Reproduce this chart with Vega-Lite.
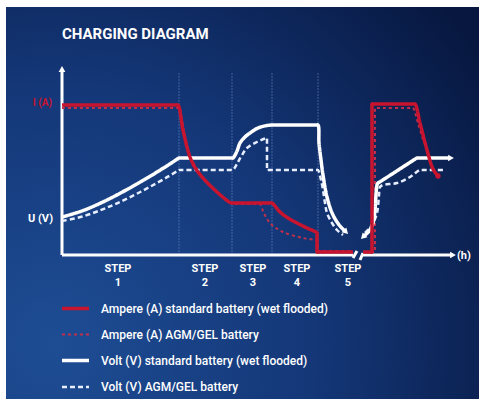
{
  "$schema": "https://vega.github.io/schema/vega-lite/v6.json",
  "width": 479,
  "height": 402,
  "autosize": {"type": "fit", "contains": "padding"},
  "padding": 0,
  "background": "#ffffff",
  "config": {
    "view": {"stroke": null},
    "legend": {
      "orient": "none",
      "legendX": 60,
      "legendY": 293,
      "title": null,
      "symbolType": "stroke",
      "symbolSize": 729,
      "rowPadding": 4,
      "labelOffset": 10,
      "labelColor": "#ffffff",
      "labelFont": "Roboto",
      "labelFontSize": 12,
      "labelFontWeight": 500,
      "labelLimit": 400,
      "padding": 0
    }
  },
  "datasets": {
    "bg": [{"x1": -56, "x2": 417, "y1": -144, "y2": 248}],
    "steps": [
      {"x": 117, "y1": 0, "y2": 183},
      {"x": 170, "y1": 0, "y2": 183},
      {"x": 210, "y1": 0, "y2": 183},
      {"x": 256, "y1": 0, "y2": 183}
    ],
    "axes": [
      {"x1": 0, "y1": 0, "x2": 0, "y2": 185},
      {"x1": 0, "y1": 0, "x2": 291, "y2": 0},
      {"x1": 301, "y1": 0, "x2": 390, "y2": 0},
      {"x1": 291, "y1": -3, "x2": 295, "y2": 4},
      {"x1": 298, "y1": -5, "x2": 301, "y2": 2}
    ],
    "arrows": [
      {"x": 0, "y": 186, "heading": 0},
      {"x": 391, "y": 0, "heading": 90},
      {"x": 389, "y": 97, "heading": 90},
      {"x": 284, "y": 23, "heading": 135},
      {"x": 301, "y": 18, "heading": 225}
    ],
    "curves": [
      {"series": "Ampere (A) AGM/GEL battery", "seg": "rd-a", "i": 1, "x": 0, "y": 147},
      {"series": "Ampere (A) AGM/GEL battery", "seg": "rd-a", "i": 2, "x": 2, "y": 147},
      {"series": "Ampere (A) AGM/GEL battery", "seg": "rd-a", "i": 3, "x": 115, "y": 147},
      {"series": "Ampere (A) AGM/GEL battery", "seg": "rd-a", "i": 4, "x": 117, "y": 147},
      {"series": "Ampere (A) AGM/GEL battery", "seg": "rd-a", "i": 5, "x": 122, "y": 124},
      {"series": "Ampere (A) AGM/GEL battery", "seg": "rd-a", "i": 6, "x": 129, "y": 97},
      {"series": "Ampere (A) AGM/GEL battery", "seg": "rd-a", "i": 7, "x": 142, "y": 76},
      {"series": "Ampere (A) AGM/GEL battery", "seg": "rd-a", "i": 8, "x": 156, "y": 62},
      {"series": "Ampere (A) AGM/GEL battery", "seg": "rd-a", "i": 9, "x": 170, "y": 51},
      {"series": "Ampere (A) AGM/GEL battery", "seg": "rd-a", "i": 10, "x": 172, "y": 51},
      {"series": "Ampere (A) AGM/GEL battery", "seg": "rd-a", "i": 11, "x": 196, "y": 51},
      {"series": "Ampere (A) AGM/GEL battery", "seg": "rd-a", "i": 12, "x": 198, "y": 51},
      {"series": "Ampere (A) AGM/GEL battery", "seg": "rd-a", "i": 13, "x": 201, "y": 44},
      {"series": "Ampere (A) AGM/GEL battery", "seg": "rd-a", "i": 14, "x": 205, "y": 36},
      {"series": "Ampere (A) AGM/GEL battery", "seg": "rd-a", "i": 15, "x": 210, "y": 30},
      {"series": "Ampere (A) AGM/GEL battery", "seg": "rd-a", "i": 16, "x": 221, "y": 23},
      {"series": "Ampere (A) AGM/GEL battery", "seg": "rd-a", "i": 17, "x": 241, "y": 17},
      {"series": "Ampere (A) AGM/GEL battery", "seg": "rd-a", "i": 18, "x": 256, "y": 14},
      {"series": "Ampere (A) AGM/GEL battery", "seg": "rd-a", "i": 19, "x": 256, "y": 12},
      {"series": "Ampere (A) AGM/GEL battery", "seg": "rd-a", "i": 20, "x": 256, "y": 6},
      {"series": "Ampere (A) AGM/GEL battery", "seg": "rd-a", "i": 21, "x": 256, "y": 4},
      {"series": "Ampere (A) AGM/GEL battery", "seg": "rd-a", "i": 22, "x": 258, "y": 4},
      {"series": "Ampere (A) AGM/GEL battery", "seg": "rd-a", "i": 23, "x": 289, "y": 4},
      {"series": "Ampere (A) AGM/GEL battery", "seg": "rd-a", "i": 24, "x": 291, "y": 4},
      {"series": "Ampere (A) AGM/GEL battery", "seg": "rd-b", "i": 1, "x": 303, "y": 3},
      {"series": "Ampere (A) AGM/GEL battery", "seg": "rd-b", "i": 2, "x": 305, "y": 3},
      {"series": "Ampere (A) AGM/GEL battery", "seg": "rd-b", "i": 3, "x": 311, "y": 3},
      {"series": "Ampere (A) AGM/GEL battery", "seg": "rd-b", "i": 4, "x": 313, "y": 3},
      {"series": "Ampere (A) AGM/GEL battery", "seg": "rd-b", "i": 5, "x": 313, "y": 5},
      {"series": "Ampere (A) AGM/GEL battery", "seg": "rd-b", "i": 6, "x": 313, "y": 145},
      {"series": "Ampere (A) AGM/GEL battery", "seg": "rd-b", "i": 7, "x": 313, "y": 147},
      {"series": "Ampere (A) AGM/GEL battery", "seg": "rd-b", "i": 8, "x": 315, "y": 147},
      {"series": "Ampere (A) AGM/GEL battery", "seg": "rd-b", "i": 9, "x": 349, "y": 147},
      {"series": "Ampere (A) AGM/GEL battery", "seg": "rd-b", "i": 10, "x": 351, "y": 147},
      {"series": "Ampere (A) AGM/GEL battery", "seg": "rd-b", "i": 11, "x": 356, "y": 132},
      {"series": "Ampere (A) AGM/GEL battery", "seg": "rd-b", "i": 12, "x": 362, "y": 112},

      {"series": "Volt (V) AGM/GEL battery", "seg": "wd-a", "i": 1, "x": 0, "y": 34},
      {"series": "Volt (V) AGM/GEL battery", "seg": "wd-a", "i": 2, "x": 21, "y": 38.6},
      {"series": "Volt (V) AGM/GEL battery", "seg": "wd-a", "i": 3, "x": 40, "y": 45.4},
      {"series": "Volt (V) AGM/GEL battery", "seg": "wd-a", "i": 4, "x": 55, "y": 51.7},
      {"series": "Volt (V) AGM/GEL battery", "seg": "wd-a", "i": 5, "x": 72, "y": 59.8},
      {"series": "Volt (V) AGM/GEL battery", "seg": "wd-a", "i": 6, "x": 88, "y": 68.2},
      {"series": "Volt (V) AGM/GEL battery", "seg": "wd-a", "i": 7, "x": 105, "y": 77.8},
      {"series": "Volt (V) AGM/GEL battery", "seg": "wd-a", "i": 8, "x": 115, "y": 83.8},
      {"series": "Volt (V) AGM/GEL battery", "seg": "wd-a", "i": 9, "x": 117, "y": 85},
      {"series": "Volt (V) AGM/GEL battery", "seg": "wd-a", "i": 10, "x": 119, "y": 85},
      {"series": "Volt (V) AGM/GEL battery", "seg": "wd-a", "i": 11, "x": 169, "y": 85},
      {"series": "Volt (V) AGM/GEL battery", "seg": "wd-a", "i": 12, "x": 171, "y": 85},
      {"series": "Volt (V) AGM/GEL battery", "seg": "wd-a", "i": 13, "x": 176, "y": 93},
      {"series": "Volt (V) AGM/GEL battery", "seg": "wd-a", "i": 14, "x": 180, "y": 100},
      {"series": "Volt (V) AGM/GEL battery", "seg": "wd-a", "i": 15, "x": 185, "y": 107},
      {"series": "Volt (V) AGM/GEL battery", "seg": "wd-a", "i": 16, "x": 195, "y": 113},
      {"series": "Volt (V) AGM/GEL battery", "seg": "wd-a", "i": 17, "x": 203, "y": 116.5},
      {"series": "Volt (V) AGM/GEL battery", "seg": "wd-a", "i": 18, "x": 205, "y": 117},
      {"series": "Volt (V) AGM/GEL battery", "seg": "wd-a", "i": 19, "x": 205, "y": 115},
      {"series": "Volt (V) AGM/GEL battery", "seg": "wd-a", "i": 20, "x": 205, "y": 87},
      {"series": "Volt (V) AGM/GEL battery", "seg": "wd-a", "i": 21, "x": 205, "y": 85},
      {"series": "Volt (V) AGM/GEL battery", "seg": "wd-a", "i": 22, "x": 207, "y": 85},
      {"series": "Volt (V) AGM/GEL battery", "seg": "wd-a", "i": 23, "x": 254, "y": 85},
      {"series": "Volt (V) AGM/GEL battery", "seg": "wd-a", "i": 24, "x": 256, "y": 85},
      {"series": "Volt (V) AGM/GEL battery", "seg": "wd-a", "i": 25, "x": 259, "y": 75},
      {"series": "Volt (V) AGM/GEL battery", "seg": "wd-a", "i": 26, "x": 261, "y": 65},
      {"series": "Volt (V) AGM/GEL battery", "seg": "wd-a", "i": 27, "x": 263, "y": 52},
      {"series": "Volt (V) AGM/GEL battery", "seg": "wd-a", "i": 28, "x": 265, "y": 42},
      {"series": "Volt (V) AGM/GEL battery", "seg": "wd-a", "i": 29, "x": 270, "y": 32},
      {"series": "Volt (V) AGM/GEL battery", "seg": "wd-a", "i": 30, "x": 275, "y": 25},
      {"series": "Volt (V) AGM/GEL battery", "seg": "wd-a", "i": 31, "x": 281, "y": 20},
      {"series": "Volt (V) AGM/GEL battery", "seg": "wd-b", "i": 1, "x": 303, "y": 22},
      {"series": "Volt (V) AGM/GEL battery", "seg": "wd-b", "i": 2, "x": 310, "y": 30},
      {"series": "Volt (V) AGM/GEL battery", "seg": "wd-b", "i": 3, "x": 315, "y": 42},
      {"series": "Volt (V) AGM/GEL battery", "seg": "wd-b", "i": 4, "x": 317, "y": 60},
      {"series": "Volt (V) AGM/GEL battery", "seg": "wd-b", "i": 5, "x": 318, "y": 68},
      {"series": "Volt (V) AGM/GEL battery", "seg": "wd-b", "i": 6, "x": 321, "y": 70},
      {"series": "Volt (V) AGM/GEL battery", "seg": "wd-b", "i": 7, "x": 335, "y": 72},
      {"series": "Volt (V) AGM/GEL battery", "seg": "wd-b", "i": 8, "x": 348, "y": 78},
      {"series": "Volt (V) AGM/GEL battery", "seg": "wd-b", "i": 9, "x": 356, "y": 84},
      {"series": "Volt (V) AGM/GEL battery", "seg": "wd-b", "i": 10, "x": 358, "y": 85},
      {"series": "Volt (V) AGM/GEL battery", "seg": "wd-b", "i": 11, "x": 360, "y": 85},
      {"series": "Volt (V) AGM/GEL battery", "seg": "wd-b", "i": 12, "x": 379, "y": 85},
      {"series": "Volt (V) AGM/GEL battery", "seg": "wd-b", "i": 13, "x": 381, "y": 85},

      {"series": "Volt (V) standard battery (wet flooded)", "seg": "ws-a", "i": 1, "x": 0, "y": 38},
      {"series": "Volt (V) standard battery (wet flooded)", "seg": "ws-a", "i": 2, "x": 21, "y": 44.4},
      {"series": "Volt (V) standard battery (wet flooded)", "seg": "ws-a", "i": 3, "x": 40, "y": 52.6},
      {"series": "Volt (V) standard battery (wet flooded)", "seg": "ws-a", "i": 4, "x": 55, "y": 60.1},
      {"series": "Volt (V) standard battery (wet flooded)", "seg": "ws-a", "i": 5, "x": 72, "y": 69.4},
      {"series": "Volt (V) standard battery (wet flooded)", "seg": "ws-a", "i": 6, "x": 88, "y": 78.7},
      {"series": "Volt (V) standard battery (wet flooded)", "seg": "ws-a", "i": 7, "x": 105, "y": 89.2},
      {"series": "Volt (V) standard battery (wet flooded)", "seg": "ws-a", "i": 8, "x": 115, "y": 95.7},
      {"series": "Volt (V) standard battery (wet flooded)", "seg": "ws-a", "i": 9, "x": 117, "y": 97},
      {"series": "Volt (V) standard battery (wet flooded)", "seg": "ws-a", "i": 10, "x": 119, "y": 97},
      {"series": "Volt (V) standard battery (wet flooded)", "seg": "ws-a", "i": 11, "x": 169, "y": 97},
      {"series": "Volt (V) standard battery (wet flooded)", "seg": "ws-a", "i": 12, "x": 171, "y": 97},
      {"series": "Volt (V) standard battery (wet flooded)", "seg": "ws-a", "i": 13, "x": 175, "y": 104},
      {"series": "Volt (V) standard battery (wet flooded)", "seg": "ws-a", "i": 14, "x": 178, "y": 112},
      {"series": "Volt (V) standard battery (wet flooded)", "seg": "ws-a", "i": 15, "x": 183, "y": 118},
      {"series": "Volt (V) standard battery (wet flooded)", "seg": "ws-a", "i": 16, "x": 188, "y": 122},
      {"series": "Volt (V) standard battery (wet flooded)", "seg": "ws-a", "i": 17, "x": 196, "y": 127},
      {"series": "Volt (V) standard battery (wet flooded)", "seg": "ws-a", "i": 18, "x": 205, "y": 129.5},
      {"series": "Volt (V) standard battery (wet flooded)", "seg": "ws-a", "i": 19, "x": 211, "y": 130},
      {"series": "Volt (V) standard battery (wet flooded)", "seg": "ws-a", "i": 20, "x": 213, "y": 130},
      {"series": "Volt (V) standard battery (wet flooded)", "seg": "ws-a", "i": 21, "x": 254, "y": 130},
      {"series": "Volt (V) standard battery (wet flooded)", "seg": "ws-a", "i": 22, "x": 256, "y": 130},
      {"series": "Volt (V) standard battery (wet flooded)", "seg": "ws-a", "i": 23, "x": 257, "y": 112},
      {"series": "Volt (V) standard battery (wet flooded)", "seg": "ws-a", "i": 24, "x": 259, "y": 95},
      {"series": "Volt (V) standard battery (wet flooded)", "seg": "ws-a", "i": 25, "x": 261, "y": 80},
      {"series": "Volt (V) standard battery (wet flooded)", "seg": "ws-a", "i": 26, "x": 265, "y": 58},
      {"series": "Volt (V) standard battery (wet flooded)", "seg": "ws-a", "i": 27, "x": 271, "y": 40},
      {"series": "Volt (V) standard battery (wet flooded)", "seg": "ws-a", "i": 28, "x": 278, "y": 29},
      {"series": "Volt (V) standard battery (wet flooded)", "seg": "ws-a", "i": 29, "x": 284, "y": 23},
      {"series": "Volt (V) standard battery (wet flooded)", "seg": "ws-b", "i": 1, "x": 301, "y": 18},
      {"series": "Volt (V) standard battery (wet flooded)", "seg": "ws-b", "i": 2, "x": 307, "y": 24},
      {"series": "Volt (V) standard battery (wet flooded)", "seg": "ws-b", "i": 3, "x": 311, "y": 32},
      {"series": "Volt (V) standard battery (wet flooded)", "seg": "ws-b", "i": 4, "x": 313, "y": 45},
      {"series": "Volt (V) standard battery (wet flooded)", "seg": "ws-b", "i": 5, "x": 314, "y": 60},
      {"series": "Volt (V) standard battery (wet flooded)", "seg": "ws-b", "i": 6, "x": 315, "y": 70},
      {"series": "Volt (V) standard battery (wet flooded)", "seg": "ws-b", "i": 7, "x": 316, "y": 72},
      {"series": "Volt (V) standard battery (wet flooded)", "seg": "ws-b", "i": 8, "x": 318, "y": 73.2},
      {"series": "Volt (V) standard battery (wet flooded)", "seg": "ws-b", "i": 9, "x": 353, "y": 95.8},
      {"series": "Volt (V) standard battery (wet flooded)", "seg": "ws-b", "i": 10, "x": 355, "y": 97},
      {"series": "Volt (V) standard battery (wet flooded)", "seg": "ws-b", "i": 11, "x": 357, "y": 97},
      {"series": "Volt (V) standard battery (wet flooded)", "seg": "ws-b", "i": 12, "x": 386, "y": 97},
      {"series": "Volt (V) standard battery (wet flooded)", "seg": "ws-b", "i": 13, "x": 388, "y": 97},

      {"series": "Ampere (A) standard battery (wet flooded)", "seg": "rs-a", "i": 1, "x": 0, "y": 150},
      {"series": "Ampere (A) standard battery (wet flooded)", "seg": "rs-a", "i": 2, "x": 2, "y": 150},
      {"series": "Ampere (A) standard battery (wet flooded)", "seg": "rs-a", "i": 3, "x": 114, "y": 150},
      {"series": "Ampere (A) standard battery (wet flooded)", "seg": "rs-a", "i": 4, "x": 116, "y": 150},
      {"series": "Ampere (A) standard battery (wet flooded)", "seg": "rs-a", "i": 5, "x": 121, "y": 125},
      {"series": "Ampere (A) standard battery (wet flooded)", "seg": "rs-a", "i": 6, "x": 128, "y": 98},
      {"series": "Ampere (A) standard battery (wet flooded)", "seg": "rs-a", "i": 7, "x": 134, "y": 86},
      {"series": "Ampere (A) standard battery (wet flooded)", "seg": "rs-a", "i": 8, "x": 141, "y": 77},
      {"series": "Ampere (A) standard battery (wet flooded)", "seg": "rs-a", "i": 9, "x": 155, "y": 63},
      {"series": "Ampere (A) standard battery (wet flooded)", "seg": "rs-a", "i": 10, "x": 168, "y": 52.5},
      {"series": "Ampere (A) standard battery (wet flooded)", "seg": "rs-a", "i": 11, "x": 170, "y": 52},
      {"series": "Ampere (A) standard battery (wet flooded)", "seg": "rs-a", "i": 12, "x": 172, "y": 52},
      {"series": "Ampere (A) standard battery (wet flooded)", "seg": "rs-a", "i": 13, "x": 208, "y": 52},
      {"series": "Ampere (A) standard battery (wet flooded)", "seg": "rs-a", "i": 14, "x": 210, "y": 52},
      {"series": "Ampere (A) standard battery (wet flooded)", "seg": "rs-a", "i": 15, "x": 218, "y": 43},
      {"series": "Ampere (A) standard battery (wet flooded)", "seg": "rs-a", "i": 16, "x": 226, "y": 37},
      {"series": "Ampere (A) standard battery (wet flooded)", "seg": "rs-a", "i": 17, "x": 235, "y": 32},
      {"series": "Ampere (A) standard battery (wet flooded)", "seg": "rs-a", "i": 18, "x": 245, "y": 27},
      {"series": "Ampere (A) standard battery (wet flooded)", "seg": "rs-a", "i": 19, "x": 255, "y": 22},
      {"series": "Ampere (A) standard battery (wet flooded)", "seg": "rs-a", "i": 20, "x": 255, "y": 20},
      {"series": "Ampere (A) standard battery (wet flooded)", "seg": "rs-a", "i": 21, "x": 255, "y": 5},
      {"series": "Ampere (A) standard battery (wet flooded)", "seg": "rs-a", "i": 22, "x": 255, "y": 3},
      {"series": "Ampere (A) standard battery (wet flooded)", "seg": "rs-a", "i": 23, "x": 257, "y": 3},
      {"series": "Ampere (A) standard battery (wet flooded)", "seg": "rs-a", "i": 24, "x": 289, "y": 3},
      {"series": "Ampere (A) standard battery (wet flooded)", "seg": "rs-a", "i": 25, "x": 291, "y": 3},
      {"series": "Ampere (A) standard battery (wet flooded)", "seg": "rs-b", "i": 1, "x": 301, "y": 3},
      {"series": "Ampere (A) standard battery (wet flooded)", "seg": "rs-b", "i": 2, "x": 303, "y": 3},
      {"series": "Ampere (A) standard battery (wet flooded)", "seg": "rs-b", "i": 3, "x": 308, "y": 3},
      {"series": "Ampere (A) standard battery (wet flooded)", "seg": "rs-b", "i": 4, "x": 310, "y": 3},
      {"series": "Ampere (A) standard battery (wet flooded)", "seg": "rs-b", "i": 5, "x": 310, "y": 5},
      {"series": "Ampere (A) standard battery (wet flooded)", "seg": "rs-b", "i": 6, "x": 310, "y": 149},
      {"series": "Ampere (A) standard battery (wet flooded)", "seg": "rs-b", "i": 7, "x": 310, "y": 151},
      {"series": "Ampere (A) standard battery (wet flooded)", "seg": "rs-b", "i": 8, "x": 312, "y": 151},
      {"series": "Ampere (A) standard battery (wet flooded)", "seg": "rs-b", "i": 9, "x": 351, "y": 151},
      {"series": "Ampere (A) standard battery (wet flooded)", "seg": "rs-b", "i": 10, "x": 353, "y": 151},
      {"series": "Ampere (A) standard battery (wet flooded)", "seg": "rs-b", "i": 11, "x": 358, "y": 132},
      {"series": "Ampere (A) standard battery (wet flooded)", "seg": "rs-b", "i": 12, "x": 365, "y": 105},
      {"series": "Ampere (A) standard battery (wet flooded)", "seg": "rs-b", "i": 13, "x": 371, "y": 86},
      {"series": "Ampere (A) standard battery (wet flooded)", "seg": "rs-b", "i": 14, "x": 376, "y": 79}
    ],
    "dot": [{"x": 376, "y": 79}],
    "labels": [
      {"kind": "title", "x": 0, "y": 221, "text": "CHARGING DIAGRAM"},
      {"kind": "ampere", "x": -10, "y": 152, "text": "I (A)"},
      {"kind": "volt", "x": -9, "y": 36, "text": "U (V)"},
      {"kind": "hours", "x": 395, "y": -1, "text": "(h)"},
      {"kind": "step", "x": 56, "y": -14, "text": "STEP"},
      {"kind": "step", "x": 56, "y": -28, "text": "1"},
      {"kind": "step", "x": 143, "y": -14, "text": "STEP"},
      {"kind": "step", "x": 143, "y": -28, "text": "2"},
      {"kind": "step", "x": 191, "y": -14, "text": "STEP"},
      {"kind": "step", "x": 191, "y": -28, "text": "3"},
      {"kind": "step", "x": 235, "y": -14, "text": "STEP"},
      {"kind": "step", "x": 235, "y": -28, "text": "4"},
      {"kind": "step", "x": 286, "y": -14, "text": "STEP"},
      {"kind": "step", "x": 286, "y": -28, "text": "5"}
    ]
  },
  "layer": [
    {
      "data": {"name": "bg"},
      "mark": {
        "type": "rect",
        "fill": {
          "gradient": "radial",
          "x1": 0.1, "y1": 0.8, "r1": 0,
          "x2": 0.1, "y2": 0.8, "r2": 1.1,
          "stops": [
            {"offset": 0, "color": "#1e4d94"},
            {"offset": 0.5, "color": "#143778"},
            {"offset": 1, "color": "#07173f"}
          ]
        }
      },
      "encoding": {
        "x": {"field": "x1", "type": "quantitative", "scale": {"domain": [-62, 417], "nice": false, "zero": false}, "axis": null},
        "x2": {"field": "x2"},
        "y": {"field": "y1", "type": "quantitative", "scale": {"domain": [-147, 255], "nice": false, "zero": false}, "axis": null},
        "y2": {"field": "y2"}
      }
    },
    {
      "data": {"name": "steps"},
      "mark": {"type": "rule", "color": "#7d9bd6", "opacity": 0.45, "strokeWidth": 1, "strokeDash": [2, 1]},
      "encoding": {
        "x": {"field": "x", "type": "quantitative"},
        "y": {"field": "y1", "type": "quantitative"},
        "y2": {"field": "y2"}
      }
    },
    {
      "data": {"name": "axes"},
      "mark": {"type": "rule", "color": "#ffffff", "strokeWidth": 3},
      "encoding": {
        "x": {"field": "x1", "type": "quantitative"},
        "y": {"field": "y1", "type": "quantitative"},
        "x2": {"field": "x2"},
        "y2": {"field": "y2"}
      }
    },
    {
      "data": {"name": "curves"},
      "mark": {"type": "line", "interpolate": "catmull-rom", "strokeCap": "butt", "strokeJoin": "round"},
      "encoding": {
        "x": {"field": "x", "type": "quantitative"},
        "y": {"field": "y", "type": "quantitative"},
        "detail": {"field": "seg", "type": "nominal"},
        "order": {"field": "i", "type": "quantitative"},
        "color": {
          "field": "series", "type": "nominal",
          "scale": {
            "domain": ["Ampere (A) standard battery (wet flooded)", "Ampere (A) AGM/GEL battery", "Volt (V) standard battery (wet flooded)", "Volt (V) AGM/GEL battery"],
            "range": ["#c8142e", "#c0304c", "#ffffff", "#e6eeff"]
          }
        },
        "strokeDash": {
          "field": "series", "type": "nominal",
          "scale": {
            "domain": ["Ampere (A) standard battery (wet flooded)", "Ampere (A) AGM/GEL battery", "Volt (V) standard battery (wet flooded)", "Volt (V) AGM/GEL battery"],
            "range": [[1, 0], [3, 3], [1, 0], [5, 3]]
          }
        },
        "strokeWidth": {
          "field": "series", "type": "nominal",
          "scale": {
            "type": "ordinal",
            "domain": ["Ampere (A) standard battery (wet flooded)", "Ampere (A) AGM/GEL battery", "Volt (V) standard battery (wet flooded)", "Volt (V) AGM/GEL battery"],
            "range": [3.5, 2, 3.5, 2.5]
          }
        }
      }
    },
    {
      "data": {"name": "arrows"},
      "mark": {"type": "point", "shape": "triangle-up", "filled": true, "color": "#ffffff", "opacity": 1, "size": 45},
      "encoding": {
        "x": {"field": "x", "type": "quantitative"},
        "y": {"field": "y", "type": "quantitative"},
        "angle": {"field": "heading", "type": "quantitative", "scale": null}
      }
    },
    {
      "data": {"name": "dot"},
      "mark": {"type": "point", "shape": "circle", "filled": true, "color": "#c8142e", "opacity": 1, "size": 28},
      "encoding": {
        "x": {"field": "x", "type": "quantitative"},
        "y": {"field": "y", "type": "quantitative"}
      }
    },
    {
      "data": {"name": "labels"},
      "transform": [{"filter": "datum.kind === 'title'"}],
      "mark": {"type": "text", "align": "left", "baseline": "middle", "font": "Roboto", "fontWeight": "bold", "fontSize": 15, "color": "#ffffff"},
      "encoding": {
        "x": {"field": "x", "type": "quantitative"},
        "y": {"field": "y", "type": "quantitative"},
        "text": {"field": "text"}
      }
    },
    {
      "data": {"name": "labels"},
      "transform": [{"filter": "datum.kind === 'ampere'"}],
      "mark": {"type": "text", "align": "right", "baseline": "middle", "font": "Roboto", "fontWeight": "bold", "fontSize": 10, "color": "#c8142e"},
      "encoding": {
        "x": {"field": "x", "type": "quantitative"},
        "y": {"field": "y", "type": "quantitative"},
        "text": {"field": "text"}
      }
    },
    {
      "data": {"name": "labels"},
      "transform": [{"filter": "datum.kind === 'volt'"}],
      "mark": {"type": "text", "align": "right", "baseline": "middle", "font": "Roboto", "fontWeight": "bold", "fontSize": 11, "color": "#ffffff"},
      "encoding": {
        "x": {"field": "x", "type": "quantitative"},
        "y": {"field": "y", "type": "quantitative"},
        "text": {"field": "text"}
      }
    },
    {
      "data": {"name": "labels"},
      "transform": [{"filter": "datum.kind === 'hours'"}],
      "mark": {"type": "text", "align": "left", "baseline": "middle", "font": "Roboto", "fontWeight": "bold", "fontSize": 11, "color": "#ffffff"},
      "encoding": {
        "x": {"field": "x", "type": "quantitative"},
        "y": {"field": "y", "type": "quantitative"},
        "text": {"field": "text"}
      }
    },
    {
      "data": {"name": "labels"},
      "transform": [{"filter": "datum.kind === 'step'"}],
      "mark": {"type": "text", "align": "center", "baseline": "middle", "font": "Roboto", "fontWeight": "bold", "fontSize": 11, "color": "#ffffff"},
      "encoding": {
        "x": {"field": "x", "type": "quantitative"},
        "y": {"field": "y", "type": "quantitative"},
        "text": {"field": "text"}
      }
    }
  ]
}
